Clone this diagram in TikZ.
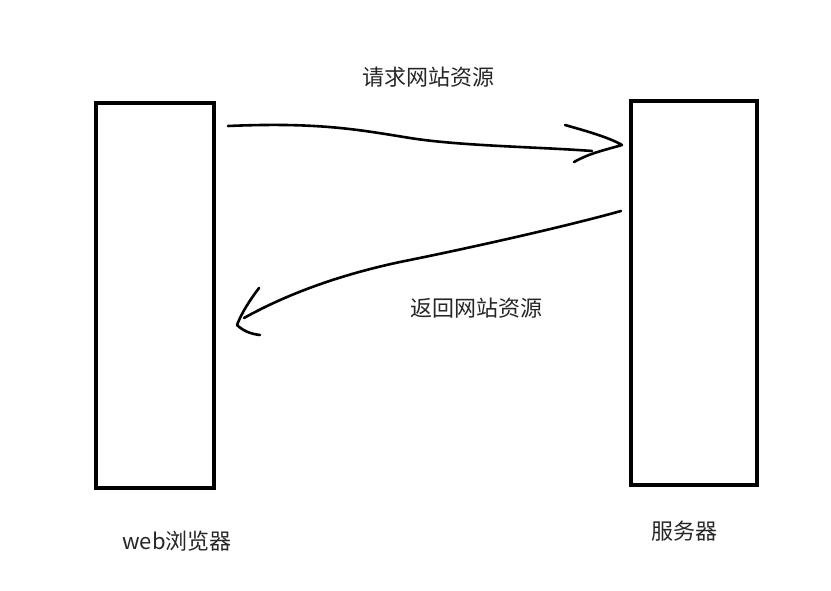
\documentclass[tikz,border=0pt]{standalone}
\usepackage{fontspec}
\newfontfamily\cjk{Noto Sans CJK SC}
\begin{document}
\begin{tikzpicture}[x=1pt,y=-1pt,
  boxst/.style={draw=black,line width=4pt,minimum width=118pt,minimum height=384pt,inner sep=0pt},
  hand/.style={line width=2.6pt,line cap=round,line join=round},
  lbl/.style={font=\cjk\fontsize{22}{25}\selectfont,text=black!85,inner sep=0pt}]
\useasboundingbox (0,0) rectangle (831,591);
\node[boxst] (browser) at (155,295.5) {};
\node[boxst,minimum width=126pt] (server) at (694,293) {};
\node[lbl] (req) at (428,77) {请求网站资源};
\node[lbl] (resp) at (476,308) {返回网站资源};
\node[lbl] (bl) at (177,541) {web浏览器};
\node[lbl] (sl) at (684,531) {服务器};
\coordinate (a1s) at (228,126);
\coordinate (a1e) at (592,151);
\coordinate (a1t) at (622,145);
\coordinate (a2s) at (621,211);
\coordinate (a2e) at (244,318);
\coordinate (a2t) at (237,325);
\draw[hand] (a1s) .. controls (320,122) and (360,130) .. (410,138)
  .. controls (460,146) and (540,147) .. (a1e);
\draw[hand] (565,125) .. controls (590,132) and (610,138) .. (a1t)
  .. controls (605,150) and (590,153) .. (574,162);
\draw[hand] (a2s) .. controls (560,228) and (460,250) .. (400,262)
  .. controls (330,277) and (280,298) .. (a2e);
\draw[hand] (259,288) .. controls (250,300) and (242,312) .. (a2t)
  .. controls (242,330) and (250,334) .. (260,335);
\end{tikzpicture}
\end{document}
